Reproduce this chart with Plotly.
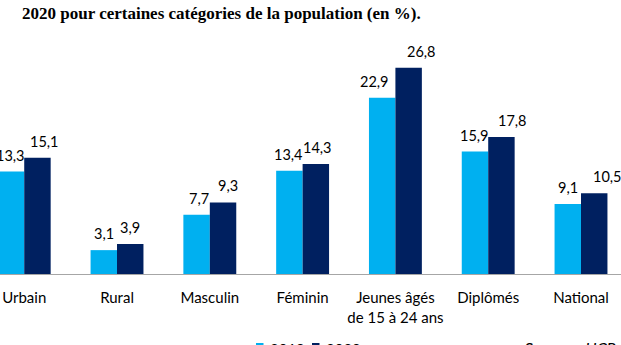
import plotly.graph_objects as go

categories = ["Urbain", "Rural", "Masculin", "Féminin", "Jeunes âgés<br>de 15 à 24 ans", "Diplômés", "National"]
values_2019 = [13.3, 3.1, 7.7, 13.4, 22.9, 15.9, 9.1]
values_2020 = [15.1, 3.9, 9.3, 14.3, 26.8, 17.8, 10.5]
series_names = ["2019", "2020"]
colors = ["#00B0F0", "#002060"]

# label horizontal nudges (px) as placed in the original
label_nudge_2019 = [0, 0, 2, -1, -8, 0, 0]
label_nudge_2020 = [7, 0, 5, 2, 13, 11, 13]

W, H = 621, 345
top, bottom = 30, 71
plot_h = H - top - bottom
px_per_unit = 7.7
bar_px = 26.5


def py(p):
    """pixel row -> paper y"""
    return (H - bottom - p) / plot_h


fig = go.Figure()
for name, vals, color in [(series_names[0], values_2019, colors[0]), (series_names[1], values_2020, colors[1])]:
    fig.add_trace(go.Bar(x=categories, y=vals, name=name, marker_color=color, marker_line_width=0,
                         showlegend=False))

# data labels
for vals, shift, nudges in [(values_2019, -bar_px / 2, label_nudge_2019), (values_2020, bar_px / 2, label_nudge_2020)]:
    for c, v, n in zip(categories, vals, nudges):
        fig.add_annotation(
            x=c, y=v, xref="x", yref="y", xshift=shift + n, yshift=6,
            text=f"{v:.1f}".replace(".", ","), showarrow=False,
            xanchor="center", yanchor="bottom",
            font=dict(family="Lato", size=14.5, color="#000000"),
        )

# legend (bottom, partly cut by the frame)
for name, color, x0 in zip(series_names, colors, [256, 312]):
    fig.add_shape(type="rect", xref="paper", yref="paper",
                  x0=x0 / W, x1=(x0 + 7.5) / W, y0=py(351), y1=py(343),
                  fillcolor=color, line_width=0)
    fig.add_annotation(
        text=name, xref="paper", yref="paper", x=(x0 + 12) / W, xanchor="left",
        y=py(349), yanchor="middle", showarrow=False,
        font=dict(family="Lato", size=15, color="#000000"),
    )

fig.update_layout(
    width=W, height=H,
    margin=dict(l=0, r=0, t=top, b=bottom, autoexpand=False),
    paper_bgcolor="white", plot_bgcolor="white",
    barmode="group", bargap=0.43, bargroupgap=0,
    showlegend=False,
    font=dict(family="Lato", size=15, color="#000000"),
)
fig.update_xaxes(
    type="category", range=[-0.261, 6.431], showline=True, linecolor="#A6A6A6", linewidth=1,
    ticks="", ticklabelstandoff=10, tickfont=dict(family="Lato", size=15, color="#000000"), showgrid=False,
)
fig.update_yaxes(range=[0, plot_h / px_per_unit], visible=False, showgrid=False, zeroline=False)

fig.add_annotation(
    text="<b>2020 pour certaines catégories de la population (en %).</b>",
    xref="paper", yref="paper", x=20 / W, xanchor="left",
    y=py(14), yanchor="middle", showarrow=False,
    font=dict(family="Liberation Serif", size=17, color="#000000"),
)
fig.add_annotation(
    text="Source : <i>HCP</i>",
    xref="paper", yref="paper", x=523 / W, xanchor="left",
    y=py(347), yanchor="middle", showarrow=False,
    font=dict(family="Lato", size=16, color="#000000"),
)

fig.write_html("out.html")
